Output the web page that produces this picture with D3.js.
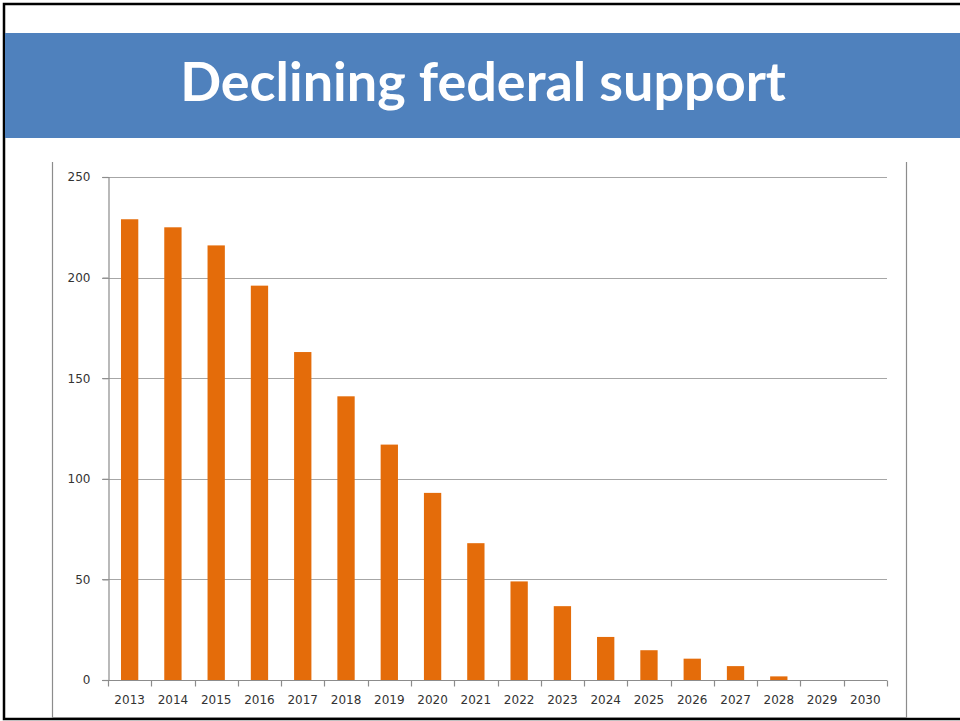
<!DOCTYPE html>
<html>
<head>
<meta charset="utf-8">
<script src="https://cdn.jsdelivr.net/npm/d3@7"></script>
<style>
  body { margin: 0; background: #fff; }
  #chart { width: 960px; height: 721px; }
  .tickLabel { font-family: "DejaVu Sans", Verdana, sans-serif; font-size: 12px; fill: #333; }
</style>
</head>
<body>
<div id="chart"></div>
<script>
  var years = ["2013","2014","2015","2016","2017","2018","2019","2020","2021",
               "2022","2023","2024","2025","2026","2027","2028","2029","2030"];
  var support = [229, 225, 216, 196, 163, 141, 117, 93, 68,
                 49, 36.7, 21.4, 14.8, 10.6, 6.9, 1.8, 0, 0];
  var yTicks = [0, 50, 100, 150, 200, 250];
  var title = "Declining federal support";

  var width = 960, height = 721;
  var svg = d3.select("#chart")
    .append("svg")
    .attr("width", width)
    .attr("height", height);

  var margin = { top: 177, right: 75, bottom: 41, left: 108 };

  // slide frame
  svg.append("rect")
    .attr("x", 4).attr("y", 4)
    .attr("width", 980).attr("height", 715)
    .attr("fill", "none")
    .attr("stroke", "#000")
    .attr("stroke-width", 2.5);

  // title banner
  svg.append("rect")
    .attr("x", 5).attr("y", 33)
    .attr("width", 960).attr("height", 105)
    .attr("fill", "#4F81BD");

  var titleText = svg.append("text")
    .attr("x", 483)
    .attr("y", 101)
    .attr("text-anchor", "middle")
    .attr("fill", "#fff")
    .style("font-family", "Lato, 'Open Sans', sans-serif")
    .style("font-weight", "bold")
    .style("font-size", "50px")
    .text(title);
  var tw = titleText.node().getComputedTextLength();
  titleText.style("font-size", (50 * 606 / tw) + "px");

  // chart box (open at top)
  svg.append("path")
    .attr("d", "M52.5,162V717.5H906.5V162")
    .attr("fill", "none")
    .attr("stroke", "#8c8c8c")
    .attr("stroke-width", 1.2);

  var xScale = d3.scaleBand()
    .domain(years)
    .range([margin.left, width - margin.right + 2])
    .paddingInner(0.6)
    .paddingOuter(0.3);

  var yScale = d3.scaleLinear()
    .domain([0, 250])
    .range([height - margin.bottom, margin.top]);

  // gridlines
  svg.append("g")
    .selectAll("line")
    .data(yTicks.filter(function(d) { return d > 0; }))
    .enter()
    .append("line")
      .attr("x1", margin.left - 6)
      .attr("x2", width - margin.right + 2)
      .attr("y1", function(d) { return Math.round(yScale(d)) + 0.5; })
      .attr("y2", function(d) { return Math.round(yScale(d)) + 0.5; })
      .attr("stroke", "#a6a6a6")
      .attr("stroke-width", 1.2);

  // bars
  svg.append("g")
    .selectAll("rect")
    .data(years)
    .enter()
    .append("rect")
      .attr("x", function(d) { return xScale(d); })
      .attr("y", function(d, i) { return yScale(support[i]); })
      .attr("width", xScale.bandwidth())
      .attr("height", function(d, i) { return yScale(0) - yScale(support[i]); })
      .attr("fill", "#E46C0A");

  // y axis
  var yAxis = svg.append("g")
    .attr("transform", `translate(${margin.left + 0.5},0)`)
    .call(d3.axisLeft(yScale).tickValues(yTicks).tickSize(6).tickPadding(12));
  yAxis.select(".domain").attr("stroke", "#8c8c8c").attr("stroke-width", 1.2);
  yAxis.selectAll(".tick line").attr("stroke", "#8c8c8c").attr("stroke-width", 1.2);
  yAxis.selectAll(".tick text").attr("class", "tickLabel").attr("fill", null);

  // x axis: baseline with ticks between categories
  var step = xScale.step();
  var x0 = xScale.range()[0];
  var xAxis = svg.append("g")
    .attr("transform", `translate(0,${Math.round(yScale(0)) + 0.5})`);
  xAxis.append("line")
    .attr("x1", margin.left - 6)
    .attr("x2", width - margin.right + 2)
    .attr("stroke", "#8c8c8c")
    .attr("stroke-width", 1.2);
  xAxis.selectAll(".xtick")
    .data(d3.range(years.length + 1))
    .enter()
    .append("line")
      .attr("class", "xtick")
      .attr("x1", function(i) { return Math.round(x0 + i * step) + 0.5; })
      .attr("x2", function(i) { return Math.round(x0 + i * step) + 0.5; })
      .attr("y1", 0)
      .attr("y2", 6)
      .attr("stroke", "#8c8c8c")
      .attr("stroke-width", 1.2);
  xAxis.selectAll(".tickLabel")
    .data(years)
    .enter()
    .append("text")
      .attr("class", "tickLabel")
      .attr("x", function(d) { return xScale(d) + xScale.bandwidth() / 2; })
      .attr("y", 23)
      .attr("text-anchor", "middle")
      .text(function(d) { return d; });
</script>
</body>
</html>
